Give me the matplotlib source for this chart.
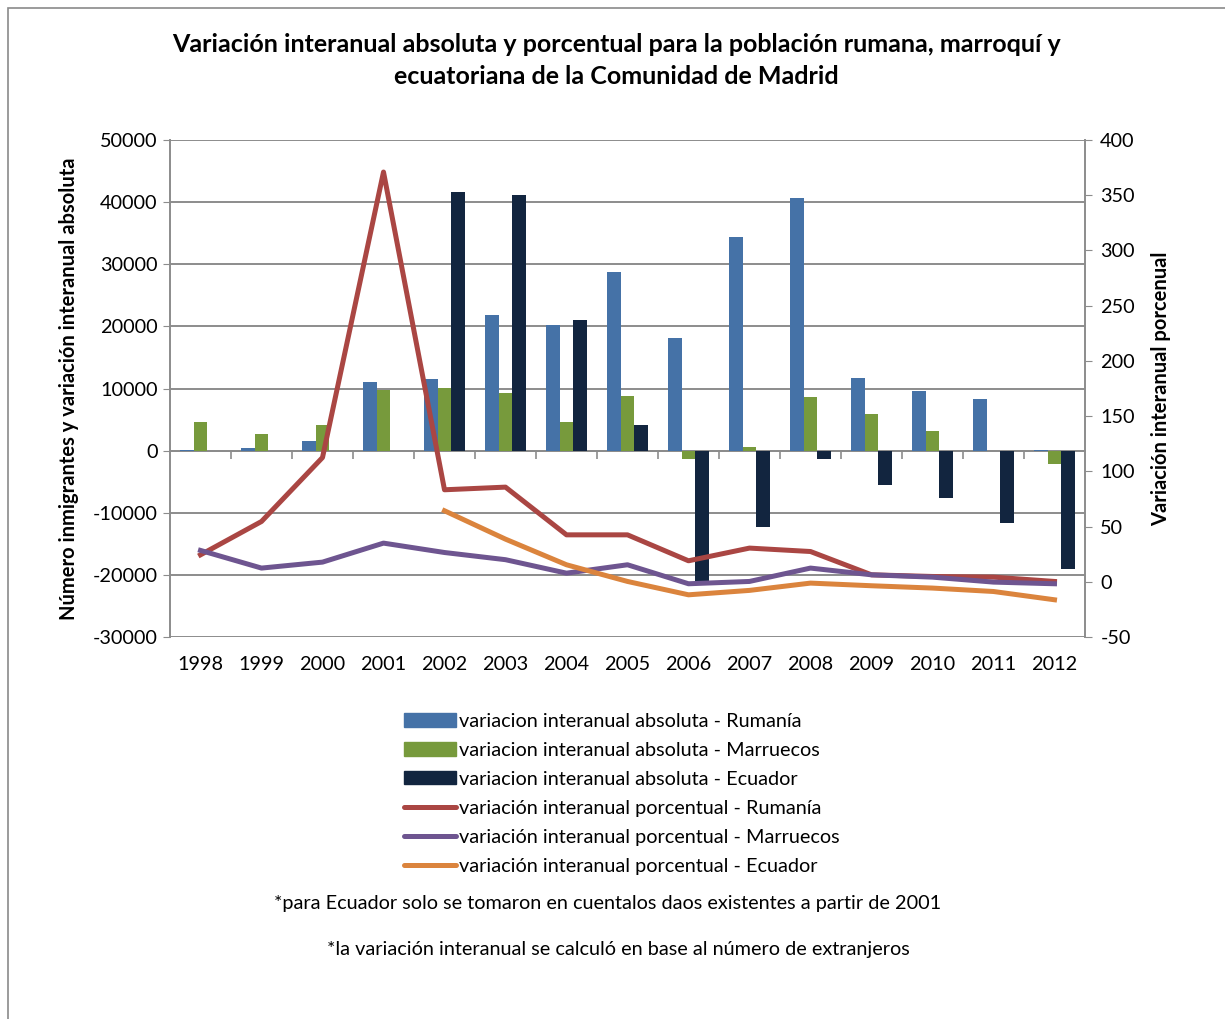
import numpy as np
import matplotlib
matplotlib.use('Agg')
import matplotlib.pyplot as plt
from matplotlib.patches import Rectangle, Patch
from matplotlib.lines import Line2D

plt.rcParams['font.family'] = ['Lato', 'DejaVu Sans']
plt.rcParams['axes.unicode_minus'] = False

years = ['1998', '1999', '2000', '2001', '2002', '2003', '2004', '2005',
         '2006', '2007', '2008', '2009', '2010', '2011', '2012']

# variacion interanual absoluta (personas)
abs_rumania = [100, 500, 1600, 11000, 11600, 21900, 20200, 28800,
               18100, 34400, 40600, 11700, 9600, 8300, 150]
abs_marruecos = [4600, 2600, 4200, 9700, 10100, 9200, 4550, 8850,
                 -1300, 600, 8650, 5900, 3100, 0, -2200]
abs_ecuador = [np.nan, np.nan, np.nan, np.nan, 41700, 41100, 21100, 4200,
               -21050, -12300, -1350, -5500, -7600, -11650, -19050]

# variacion interanual porcentual (%)
pct_rumania = [24.4, 54.6, 112.5, 371, 83.3, 85.7, 42.5, 42.5,
               19, 30.5, 27.4, 6.3, 4.8, 4.2, 0.3]
pct_marruecos = [28.4, 12.4, 17.8, 35, 26.5, 20, 7.8, 15.4,
                 -1.8, 0.3, 12.4, 6.3, 4.2, -0.3, -1.8]
pct_ecuador = [np.nan, np.nan, np.nan, np.nan, 64.3, 38.6, 15.4, 0.3,
               -11.8, -7.8, -1.2, -3.6, -5.7, -8.8, -16.3]

c_rum_bar = '#4572A7'
c_mar_bar = '#779A3C'
c_ecu_bar = '#12253F'
c_rum_line = '#AA4643'
c_mar_line = '#6E5590'
c_ecu_line = '#DB843D'
grid_c = '#8C8C8C'
fs = 14.3

W, H = 1225, 1019
fig = plt.figure(figsize=(W / 100, H / 100), dpi=100)

# outer chart frame
fig.patches.append(Rectangle((8 / W, -0.05), 1.1, 1 - 8 / H + 0.05,
                             transform=fig.transFigure, fill=False,
                             edgecolor='#8A8A8A', linewidth=1.2))

ax = fig.add_axes([170 / W, 1 - 637 / H, 915 / W, 497 / H])
ax2 = ax.twinx()

x = np.arange(len(years))
bw = 0.223
ax.bar(x - bw, abs_rumania, bw, color=c_rum_bar, zorder=3)
ax.bar(x, abs_marruecos, bw, color=c_mar_bar, zorder=3)
ecu = np.array(abs_ecuador)
ok = ~np.isnan(ecu)
ax.bar(x[ok] + bw, ecu[ok], bw, color=c_ecu_bar, zorder=3)

ax.set_xlim(-0.5, len(years) - 0.5)
ax.set_ylim(-30000, 50000)
ax.set_yticks(np.arange(-30000, 50001, 10000))
ax.yaxis.grid(True, color=grid_c, linewidth=1.4, zorder=0)
ax.set_axisbelow(True)
ax.tick_params(axis='y', length=5, color=grid_c, labelsize=fs, pad=4)

ax.spines['top'].set_visible(False)
ax.spines['left'].set_color(grid_c)
ax.spines['left'].set_linewidth(1.4)
ax.spines['right'].set_visible(False)
ax.spines['bottom'].set_position(('data', 0))
ax.spines['bottom'].set_color(grid_c)
ax.spines['bottom'].set_linewidth(1.4)
ax.spines['bottom'].set_zorder(2)
ax.set_xticks(np.arange(0.5, len(years) - 0.5, 1))
ax.tick_params(axis='x', length=6, color=grid_c, width=1.2, labelbottom=False)
for xi, lab in zip(x, years):
    ax.text(xi, -0.056, lab, transform=ax.get_xaxis_transform(),
            ha='center', va='center', fontsize=fs)

ax.set_ylabel('Número inmigrantes y variación interanual absoluta',
              fontsize=14.5, fontweight='bold', labelpad=10)

ax2.plot(x, pct_rumania, color=c_rum_line, linewidth=3.6, zorder=4)
ax2.plot(x, pct_marruecos, color=c_mar_line, linewidth=3.6, zorder=4)
ax2.plot(x, pct_ecuador, color=c_ecu_line, linewidth=3.6, zorder=4)
ax2.set_ylim(-50, 400)
ax2.set_yticks(np.arange(-50, 401, 50))
ax2.tick_params(axis='y', length=5, color=grid_c, labelsize=fs, pad=6)
for s in ['top', 'bottom', 'left']:
    ax2.spines[s].set_visible(False)
ax2.spines['right'].set_color(grid_c)
ax2.spines['right'].set_linewidth(1.4)
ax2.set_ylabel('Variación interanual porcenual', fontsize=14.5,
               fontweight='bold', labelpad=12)

fig.text(0.503, 1 - 45 / H, 'Variación interanual absoluta y porcentual para la población rumana, marroquí y',
         ha='center', va='center', fontsize=18, fontweight='bold')
fig.text(0.503, 1 - 77 / H, 'ecuatoriana de la Comunidad de Madrid',
         ha='center', va='center', fontsize=18, fontweight='bold')

handles = [
    Patch(color=c_rum_bar), Patch(color=c_mar_bar), Patch(color=c_ecu_bar),
    Line2D([], [], color=c_rum_line, linewidth=3.6, solid_capstyle='round'),
    Line2D([], [], color=c_mar_line, linewidth=3.6, solid_capstyle='round'),
    Line2D([], [], color=c_ecu_line, linewidth=3.6, solid_capstyle='round'),
]
labels = [
    'variacion interanual absoluta - Rumanía',
    'variacion interanual absoluta - Marruecos',
    'variacion interanual absoluta - Ecuador',
    'variación interanual porcentual - Rumanía',
    'variación interanual porcentual - Marruecos',
    'variación interanual porcentual - Ecuador',
]
fig.legend(handles, labels, loc='upper center',
           bbox_to_anchor=(622 / W, 1 - 713 / H), frameon=False,
           fontsize=fs, handlelength=2.6, handletextpad=0.2,
           handleheight=0.65, labelspacing=0.6, borderpad=0,
           borderaxespad=0)

fig.text(608 / W, 1 - 904 / H,
         '*para Ecuador solo se tomaron en cuentalos daos existentes a partir de 2001',
         ha='center', va='center', fontsize=fs)
fig.text(618 / W, 1 - 949 / H,
         '*la variación interanual se calculó en base al número de extranjeros',
         ha='center', va='center', fontsize=fs)

fig.savefig('out.png', dpi=100)
